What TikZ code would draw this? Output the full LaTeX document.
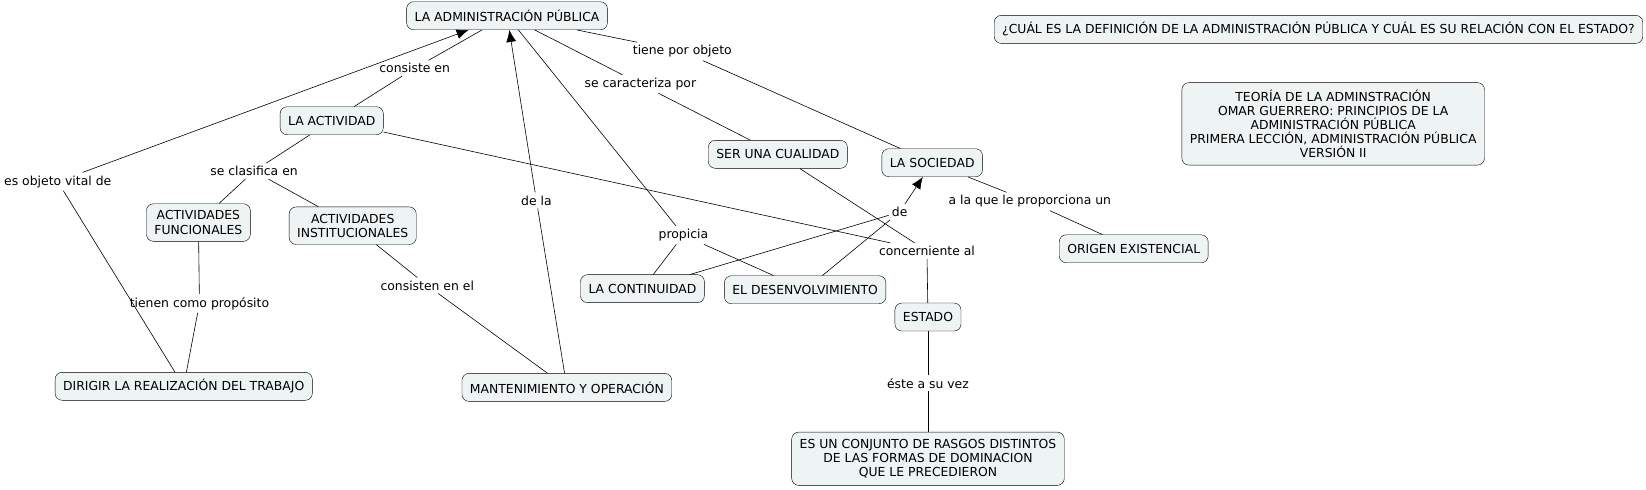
\documentclass[tikz,border=0pt]{standalone}
\usepackage{fontspec}
\setmainfont{DejaVu Sans}
\usetikzlibrary{arrows.meta}
\definecolor{conceptfill}{RGB}{238,243,244}
\tikzstyle{concept}=[draw,rounded corners=7pt,fill=conceptfill,align=center,inner xsep=8pt,inner ysep=7pt,minimum height=28pt,font=\fontsize{12.4}{14.2}\selectfont]
\tikzstyle{phrase}=[inner sep=3pt,font=\fontsize{12.4}{14.2}\selectfont]
\tikzstyle{conn}=[draw,line width=0.6pt]
\tikzstyle{arrowconn}=[-{Latex[length=12pt,width=10pt]},draw,line width=0.6pt]

\begin{document}
\begin{tikzpicture}[x=1.05pt,y=-1.05pt]
        \useasboundingbox (0,0) rectangle (1568,466);
        % concepts
        \node [concept] (adm) at (483,15) {LA ADMINISTRACIÓN PÚBLICA};
        \node [concept] (title) at (1256,28) {¿CUÁL ES LA DEFINICIÓN DE LA ADMINISTRACIÓN PÚBLICA Y CUÁL ES SU RELACIÓN CON EL ESTADO?};
        \node [concept] (ref) at (1270,118) {TEORÍA DE LA ADMINSTRACIÓN\\OMAR GUERRERO: PRINCIPIOS DE LA\\ADMINISTRACIÓN PÚBLICA\\PRIMERA LECCIÓN, ADMINISTRACIÓN PÚBLICA\\VERSIÓN II};
        \node [concept] (act) at (316,115) {LA ACTIVIDAD};
        \node [concept] (cual) at (741,147) {SER UNA CUALIDAD};
        \node [concept] (soc) at (888,155) {LA SOCIEDAD};
        \node [concept] (func) at (189,212) {ACTIVIDADES\\FUNCIONALES};
        \node [concept] (inst) at (336,215) {ACTIVIDADES\\INSTITUCIONALES};
        \node [concept] (orig) at (1080,237) {ORIGEN EXISTENCIAL};
        \node [concept] (cont) at (612,275) {LA CONTINUIDAD};
        \node [concept] (desen) at (767,276) {EL DESENVOLVIMIENTO};
        \node [concept] (est) at (884,302) {ESTADO};
        \node [concept] (dir) at (175,368) {DIRIGIR LA REALIZACIÓN DEL TRABAJO};
        \node [concept] (mant) at (540,369) {MANTENIMIENTO Y OPERACIÓN};
        \node [concept] (conj) at (884,437) {ES UN CONJUNTO DE RASGOS DISTINTOS\\DE LAS FORMAS DE DOMINACION\\QUE LE PRECEDIERON};

        % linking phrases
        \node [phrase] (consiste) at (395,65) {consiste en};
        \node [phrase] (tiene) at (650,49) {tiene por objeto};
        \node [phrase] (carac) at (610,80) {se caracteriza por};
        \node [phrase] (vital) at (55,173) {es objeto vital de};
        \node [phrase] (clasif) at (242,163) {se clasifica en};
        \node [phrase] (dela) at (511,191) {de la};
        \node [phrase] (propicia) at (651,224) {propicia};
        \node [phrase] (de) at (857,202) {de};
        \node [phrase] (proporc) at (981,192) {a la que le proporciona un};
        \node [phrase] (concern) at (883,239) {concerniente al};
        \node [phrase] (proposito) at (190,289) {tienen como propósito};
        \node [phrase] (consisten) at (407,272) {consisten en el};
        \node [phrase] (estevez) at (884,365) {éste a su vez};

        \path [conn] (adm) -- (consiste);
        \path [conn] (consiste) -- (act);
        \path [conn] (adm) -- (tiene);
        \path [conn] (tiene) -- (soc);
        \path [conn] (adm) -- (carac);
        \path [conn] (carac) -- (cual);
        \path [conn] (dir) -- (vital);
        \path [arrowconn] (vital) -- (adm);
        \path [conn] (act) -- (clasif);
        \path [conn] (clasif) -- (func);
        \path [conn] (clasif) -- (inst);
        \path [conn] (func) -- (proposito);
        \path [conn] (proposito) -- (dir);
        \path [conn] (inst) -- (consisten);
        \path [conn] (consisten) -- (mant);
        \path [conn] (mant) -- (dela);
        \path [arrowconn] (dela) -- (adm);
        \path [conn] (adm) -- (propicia);
        \path [conn] (propicia) -- (cont);
        \path [conn] (propicia) -- (desen);
        \path [conn] (cont) -- (de);
        \path [conn] (desen) -- (de);
        \path [arrowconn] (de) -- (soc);
        \path [conn] (act) -- (concern);
        \path [conn] (cual) -- (concern);
        \path [conn] (concern) -- (est);
        \path [conn] (soc) -- (proporc);
        \path [conn] (proporc) -- (orig);
        \path [conn] (est) -- (estevez);
        \path [conn] (estevez) -- (conj);
      \end{tikzpicture}
\end{document}
